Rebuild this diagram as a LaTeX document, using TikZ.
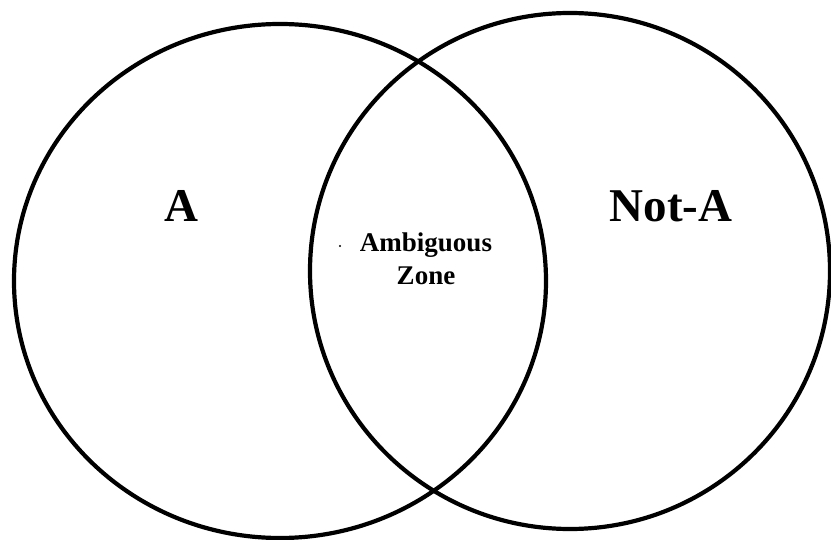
\documentclass[tikz,border=0pt]{standalone}
\usepackage{fontspec}
\setmainfont{Liberation Serif}
\begin{document}
\begin{tikzpicture}[x=1pt,y=-1pt,
  ring/.style={line width=4.2pt,black},
  biglabel/.style={font=\bfseries\fontsize{47}{47}\selectfont,inner sep=0pt,anchor=base},
  zonelabel/.style={font=\bfseries\fontsize{27}{33}\selectfont,inner sep=0pt,align=center}]
\useasboundingbox[fill=white] (0,0) rectangle (831,540);
\draw[ring] (280,281) ellipse [x radius=266, y radius=257];
\draw[ring] (570,271) ellipse [x radius=260, y radius=258];
\node[biglabel] (a) at (181,222) {A};
\node[biglabel] (nota) at (671,222) {Not-A};
\node[zonelabel] (zone) at (426,259) {Ambiguous\\Zone};
\fill (340,246) circle [radius=1.1pt];
\end{tikzpicture}
\end{document}
